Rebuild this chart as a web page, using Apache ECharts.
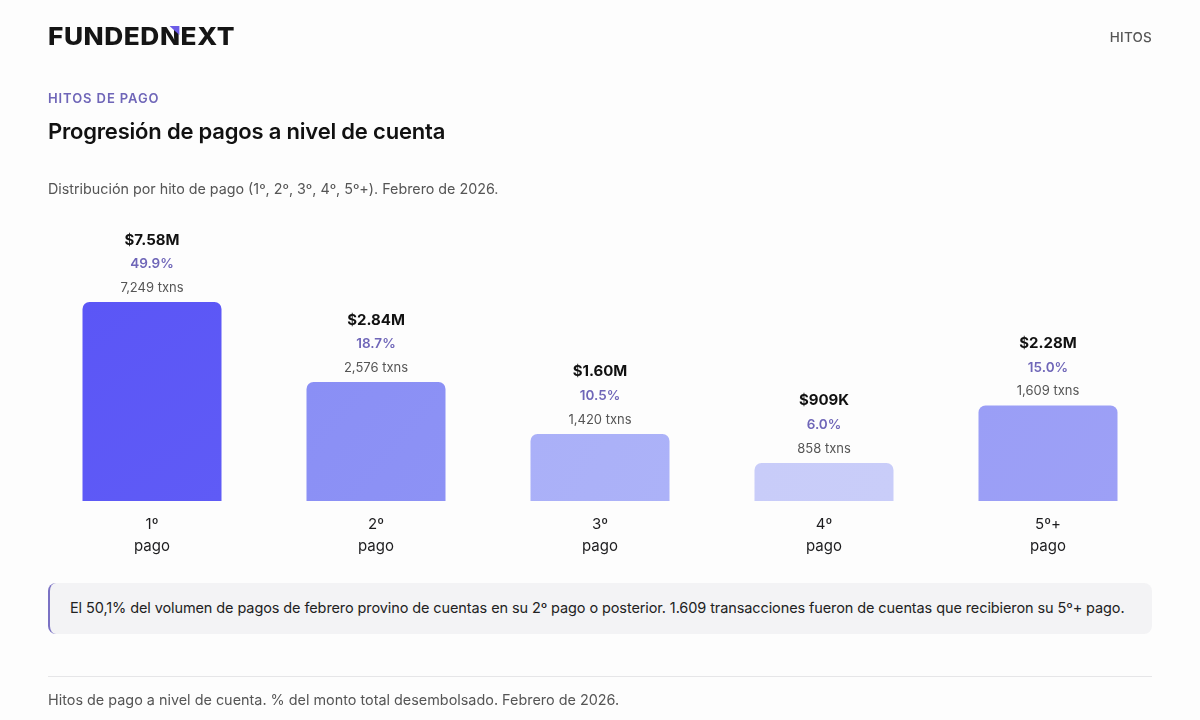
<!DOCTYPE html>
<html>
<head>
<meta charset="utf-8">
<script src="https://cdn.jsdelivr.net/npm/echarts@6/dist/echarts.min.js"></script>
<style>
  html, body { margin:0; padding:0; background:#fdfdfd; font-family: Inter, "Noto Sans", sans-serif; }
  #page { position:relative; width:1200px; height:720px; overflow:hidden; }
  #chart { position:absolute; left:0; top:0; width:1200px; height:720px; }
  .t { position:absolute; white-space:nowrap; }
  #logo { left:48px; top:24px; font-size:24px; font-weight:800; color:#151515; letter-spacing:0.5px; transform-origin:left top; line-height:26px; }
  #logo .n { position:relative; display:inline-block; }
  #logo .tri { position:absolute; right:1px; top:2px; width:0; height:0; border-top:9px solid #6c5ce7; border-left:9px solid transparent; }
  #nav { right:48px; top:29px; font-size:13.5px; color:#555; letter-spacing:0.2px; font-weight:500; }
  #kicker { left:48px; top:90px; font-size:13px; color:#6f66b8; letter-spacing:0.9px; font-weight:600; }
  #title { left:48px; top:118px; font-size:22px; color:#111; font-weight:600; letter-spacing:-0.2px; }
  #sub { left:48px; top:180px; font-size:14.3px; color:#555; }
  #callout { position:absolute; left:48px; top:583px; width:1104px; height:51px; background:#f3f3f5; border-radius:8px; border-left:2px solid #7b72c4; box-sizing:border-box; }
  #callout span { position:absolute; left:20px; top:16px; font-size:14.5px; color:#222; white-space:nowrap; letter-spacing:-0.1px; }
  #rule { position:absolute; left:48px; top:676px; width:1104px; height:1px; background:#e6e6e8; }
  #foot { left:48px; top:691px; font-size:14.4px; color:#555; }
</style>
</head>
<body>
<div id="page">
  <div id="chart"></div>
  <div class="t" id="logo">FUNDED<span class="n">N<span class="tri"></span></span>EXT</div>
  <div class="t" id="nav">HITOS</div>
  <div class="t" id="kicker">HITOS DE PAGO</div>
  <div class="t" id="title">Progresión de pagos a nivel de cuenta</div>
  <div class="t" id="sub">Distribución por hito de pago (1º, 2º, 3º, 4º, 5º+). Febrero de 2026.</div>
  <div id="callout"><span>El 50,1% del volumen de pagos de febrero provino de cuentas en su 2º pago o posterior. 1.609 transacciones fueron de cuentas que recibieron su 5º+ pago.</span></div>
  <div id="rule"></div>
  <div class="t" id="foot">Hitos de pago a nivel de cuenta. % del monto total desembolsado. Febrero de 2026.</div>
</div>
<script>
// Data
const categories = ['1º\npago', '2º\npago', '3º\npago', '4º\npago', '5º+\npago'];
const amountsM = [7.58, 2.84, 1.60, 0.909, 2.28];
const amountLabels = ['$7.58M', '$2.84M', '$1.60M', '$909K', '$2.28M'];
const sharePct = [49.9, 18.7, 10.5, 6.0, 15.0];
const txns = [7249, 2576, 1420, 858, 1609];
const barColors = ['#5b56f6', '#8a8ff5', '#aab0f8', '#c8ccf9', '#9a9ef6'];

// fit logo width
(function(){
  const el = document.getElementById('logo');
  const w = el.getBoundingClientRect().width;
  el.style.transform = 'scaleX(' + (187 / w) + ')';
})();

const chart = echarts.init(document.getElementById('chart'), null, { renderer: 'canvas' });
const fmtInt = n => n.toLocaleString('en-US');

chart.setOption({
  animation: false,
  grid: { left: 40, right: 40, top: 302, bottom: 219 },
  xAxis: {
    type: 'category',
    data: categories,
    axisLine: { show: false },
    axisTick: { show: false },
    axisLabel: { color: '#1d1d1f', fontSize: 15, lineHeight: 22, margin: 12, fontFamily: 'Inter' }
  },
  yAxis: {
    type: 'value',
    min: 0,
    max: 4.75,
    show: false,
    splitLine: { show: false }
  },
  series: [{
    type: 'bar',
    clip: true,
    barWidth: 139,
    data: amountsM.map((v, i) => ({
      value: v,
      itemStyle: {
        color: {
          type: 'linear', x: 0, y: 0, x2: 1, y2: 1,
          colorStops: [
            { offset: 0, color: barColors[i] },
            { offset: 1, color: echarts.color.lift(barColors[i], 0.03) }
          ]
        },
        borderRadius: [7, 7, 0, 0]
      }
    })),
    label: {
      show: true,
      position: 'top',
      distance: 2,
      fontFamily: 'Inter',
      formatter: p => '{a|' + amountLabels[p.dataIndex] + '}\n{b|' + sharePct[p.dataIndex].toFixed(1) + '%}\n{c|' + fmtInt(txns[p.dataIndex]) + ' txns}',
      rich: {
        a: { fontSize: 15, fontWeight: 700, color: '#111', lineHeight: 24, fontFamily: 'Inter' },
        b: { fontSize: 13.5, fontWeight: 600, color: '#6f66b8', lineHeight: 24, fontFamily: 'Inter' },
        c: { fontSize: 13, color: '#555', lineHeight: 24, fontFamily: 'Inter' }
      }
    }
  }]
});
</script>
</body>
</html>
